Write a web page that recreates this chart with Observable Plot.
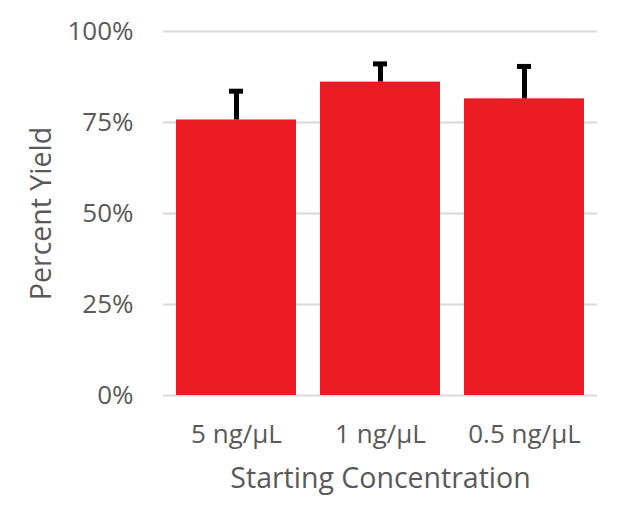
<!DOCTYPE html>
<html>
<head>
<meta charset="utf-8">
<script src="https://cdn.jsdelivr.net/npm/d3@7"></script>
<script src="https://cdn.jsdelivr.net/npm/@observablehq/plot@0.6"></script>
<style>
  html, body { margin: 0; padding: 0; background: #fff; }
  #chart svg { display: block; }
</style>
</head>
<body>
<div id="chart"></div>
<script>
const categories = ["5 ng/µL", "1 ng/µL", "0.5 ng/µL"];
const yields = [0.757, 0.861, 0.815];
const errors = [0.079, 0.050, 0.089];
const yTicks = [0, 0.25, 0.5, 0.75, 1];

const data = categories.map((c, i) => ({cat: c, value: yields[i], err: errors[i]}));
const textColor = "#595959";
const font = "'Open Sans', sans-serif";

const chart = Plot.plot({
  width: 623,
  height: 509,
  marginLeft: 163,
  marginRight: 26,
  marginTop: 31,
  marginBottom: 114,
  style: {fontFamily: font, background: "#fff", color: textColor},
  x: {domain: categories, paddingInner: 0.166, paddingOuter: 0.083, label: null},
  y: {domain: [0, 1], label: null},
  marks: [
    Plot.gridY(yTicks, {stroke: "#d9d9d9", strokeOpacity: 1, strokeWidth: 2}),
    Plot.barY(data, {x: "cat", y: "value", fill: "#ED1C24"}),
    Plot.ruleX(data, {x: "cat", y1: "value", y2: d => d.value + d.err, stroke: "#000", strokeWidth: 5}),
    Plot.tickY(data, {x: "cat", y: d => d.value + d.err, stroke: "#000", strokeWidth: 5, insetLeft: 53, insetRight: 53}),
    Plot.axisY(yTicks, {tickSize: 0, tickPadding: 30, tickFormat: d3.format(".0%"), fontSize: 26, fill: textColor, label: null}),
    Plot.axisX({tickSize: 0, tickPadding: 29, fontSize: 26, fill: textColor, label: null}),
    Plot.text(["Starting Concentration"], {frameAnchor: "bottom", dy: 92, lineAnchor: "bottom", fontSize: 28.5, fill: textColor}),
    Plot.text(["Percent Yield"], {frameAnchor: "left", dx: -122, rotate: -90, textAnchor: "middle", lineAnchor: "middle", fontSize: 28.5, fill: textColor})
  ]
});
document.getElementById("chart").appendChild(chart);
</script>
</body>
</html>
